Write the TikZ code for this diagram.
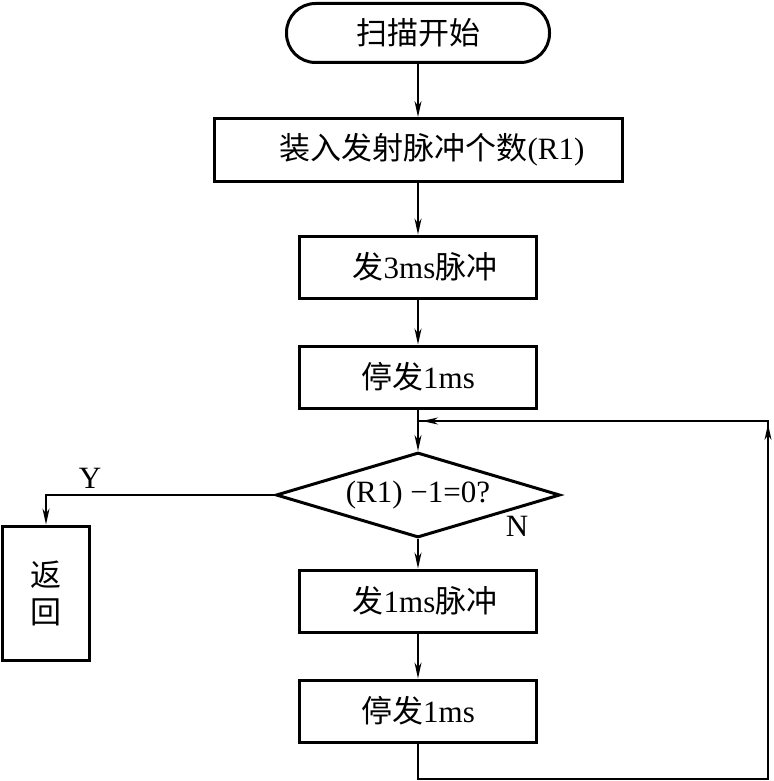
\documentclass[tikz,border=0pt]{standalone}
\usepackage{fontspec}
\setmainfont{Liberation Serif}
\newfontfamily\cjk{Noto Sans CJK SC}
\usetikzlibrary{shapes.geometric,arrows.meta}
\begin{document}
\begin{tikzpicture}[x=1pt,y=-1pt,
  txt/.style={font=\fontsize{31}{35}\selectfont},
  box/.style={txt,draw,line width=3pt,minimum width=237pt,minimum height=62pt,inner sep=0pt},
  conn/.style={line width=1.5pt},
  arr/.style={conn,-{Stealth[length=16pt,width=7pt,inset=5pt]}}]
\useasboundingbox (0,0) rectangle (773,781);
% nodes
\node[box,rounded corners=29pt,minimum width=263pt,minimum height=59pt] (start) at (418,33) {\cjk 扫描开始};
\node[box,minimum width=408pt,minimum height=63pt] (b1) at (418,150) {\hspace*{28pt}{\cjk 装入发射脉冲个数}(R1)};
\node[box] (b2) at (418,267) {\hspace*{14pt}{\cjk 发}3ms{\cjk 脉冲}};
\node[box] (b3) at (418,377) {{\cjk 停发}1ms};
\node[txt,draw,diamond,aspect=3.34,line width=3pt,minimum width=284pt,minimum height=85pt,inner sep=0pt] (dia) at (418,495) {(R1) −1=0?};
\node[box] (b4) at (418,601) {\hspace*{14pt}{\cjk 发}1ms{\cjk 脉冲}};
\node[box] (b5) at (418,711) {{\cjk 停发}1ms};
\node[box,align=center,minimum width=87pt,minimum height=134pt] (ret) at (46,593) {{\cjk 返}\\[2pt]{\cjk 回}};
\node[txt] (ylbl) at (90,478) {Y};
\node[txt] (nlbl) at (517,526) {N};
% connectors
\draw[arr] (start) -- (b1);
\draw[arr] (b1) -- (b2);
\draw[arr] (b2) -- (b3);
\draw[arr] (b3) -- (dia);
\draw[arr] (dia) -- (b4);
\draw[arr] (b4) -- (b5);
\draw[arr] (dia.west) -| (ret.north);
\coordinate (br) at (768,779);
\coordinate (tr) at (768,421);
\coordinate (join) at (418,421);
\coordinate (upT) at (768,424);
\coordinate (upS) at (768,470);
\coordinate (lfT) at (422,421);
\coordinate (lfS) at (470,421);
\draw[conn] (b5.south) |- (br) -- (tr) -- (join);
\draw[arr] (upS) -- (upT);
\draw[arr] (lfS) -- (lfT);
\end{tikzpicture}
\end{document}
